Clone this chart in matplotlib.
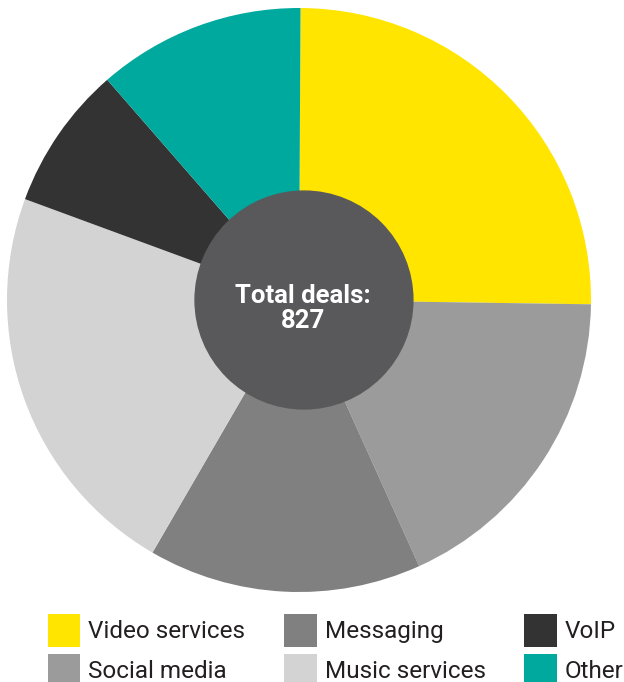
import matplotlib.pyplot as plt
import matplotlib.patches as mpatches

plt.rcParams['font.family'] = ['Roboto', 'DejaVu Sans']

categories = ['Video services', 'Social media', 'Messaging', 'Music services', 'VoIP', 'Other']
deals      = [208, 149, 125, 184, 66, 95]
colors     = ['#FFE500', '#9A9B9A', '#808080', '#D3D3D3', '#333333', '#00A99D']
total      = sum(deals)

fig = plt.figure(figsize=[6.24, 6.82], dpi=100)
ax = fig.add_axes([7/624, 90/682, 584/624, 584/682])

wedges, _ = ax.pie(deals, colors=colors, startangle=89.7, counterclock=False,
                   radius=1.0, wedgeprops=dict(linewidth=0))

ax.add_patch(mpatches.Circle((0.017, 0.0), 0.373, color='#59595B', zorder=3))
ax.text(0.014, -0.03, 'Total deals:\n{}'.format(total), ha='center', va='center',
        color='white', fontsize=18.5, fontweight='bold', linespacing=1.05, zorder=4)

ax.set_xlim(-1, 1)
ax.set_ylim(-1, 1)
ax.set_aspect('equal')
ax.axis('off')

handles = [mpatches.Patch(facecolor=c, edgecolor='none') for c in colors]
fig.legend(handles, categories, loc='upper left', bbox_to_anchor=[48/624, 1 - 614/682],
           ncol=3, frameon=False, fontsize=17.5, labelcolor='#231F20',
           handlelength=1.33, handleheight=1.7, handletextpad=0.33,
           columnspacing=1.6, labelspacing=0.3, borderpad=0, borderaxespad=0)

fig.savefig('out.png', dpi=100)
